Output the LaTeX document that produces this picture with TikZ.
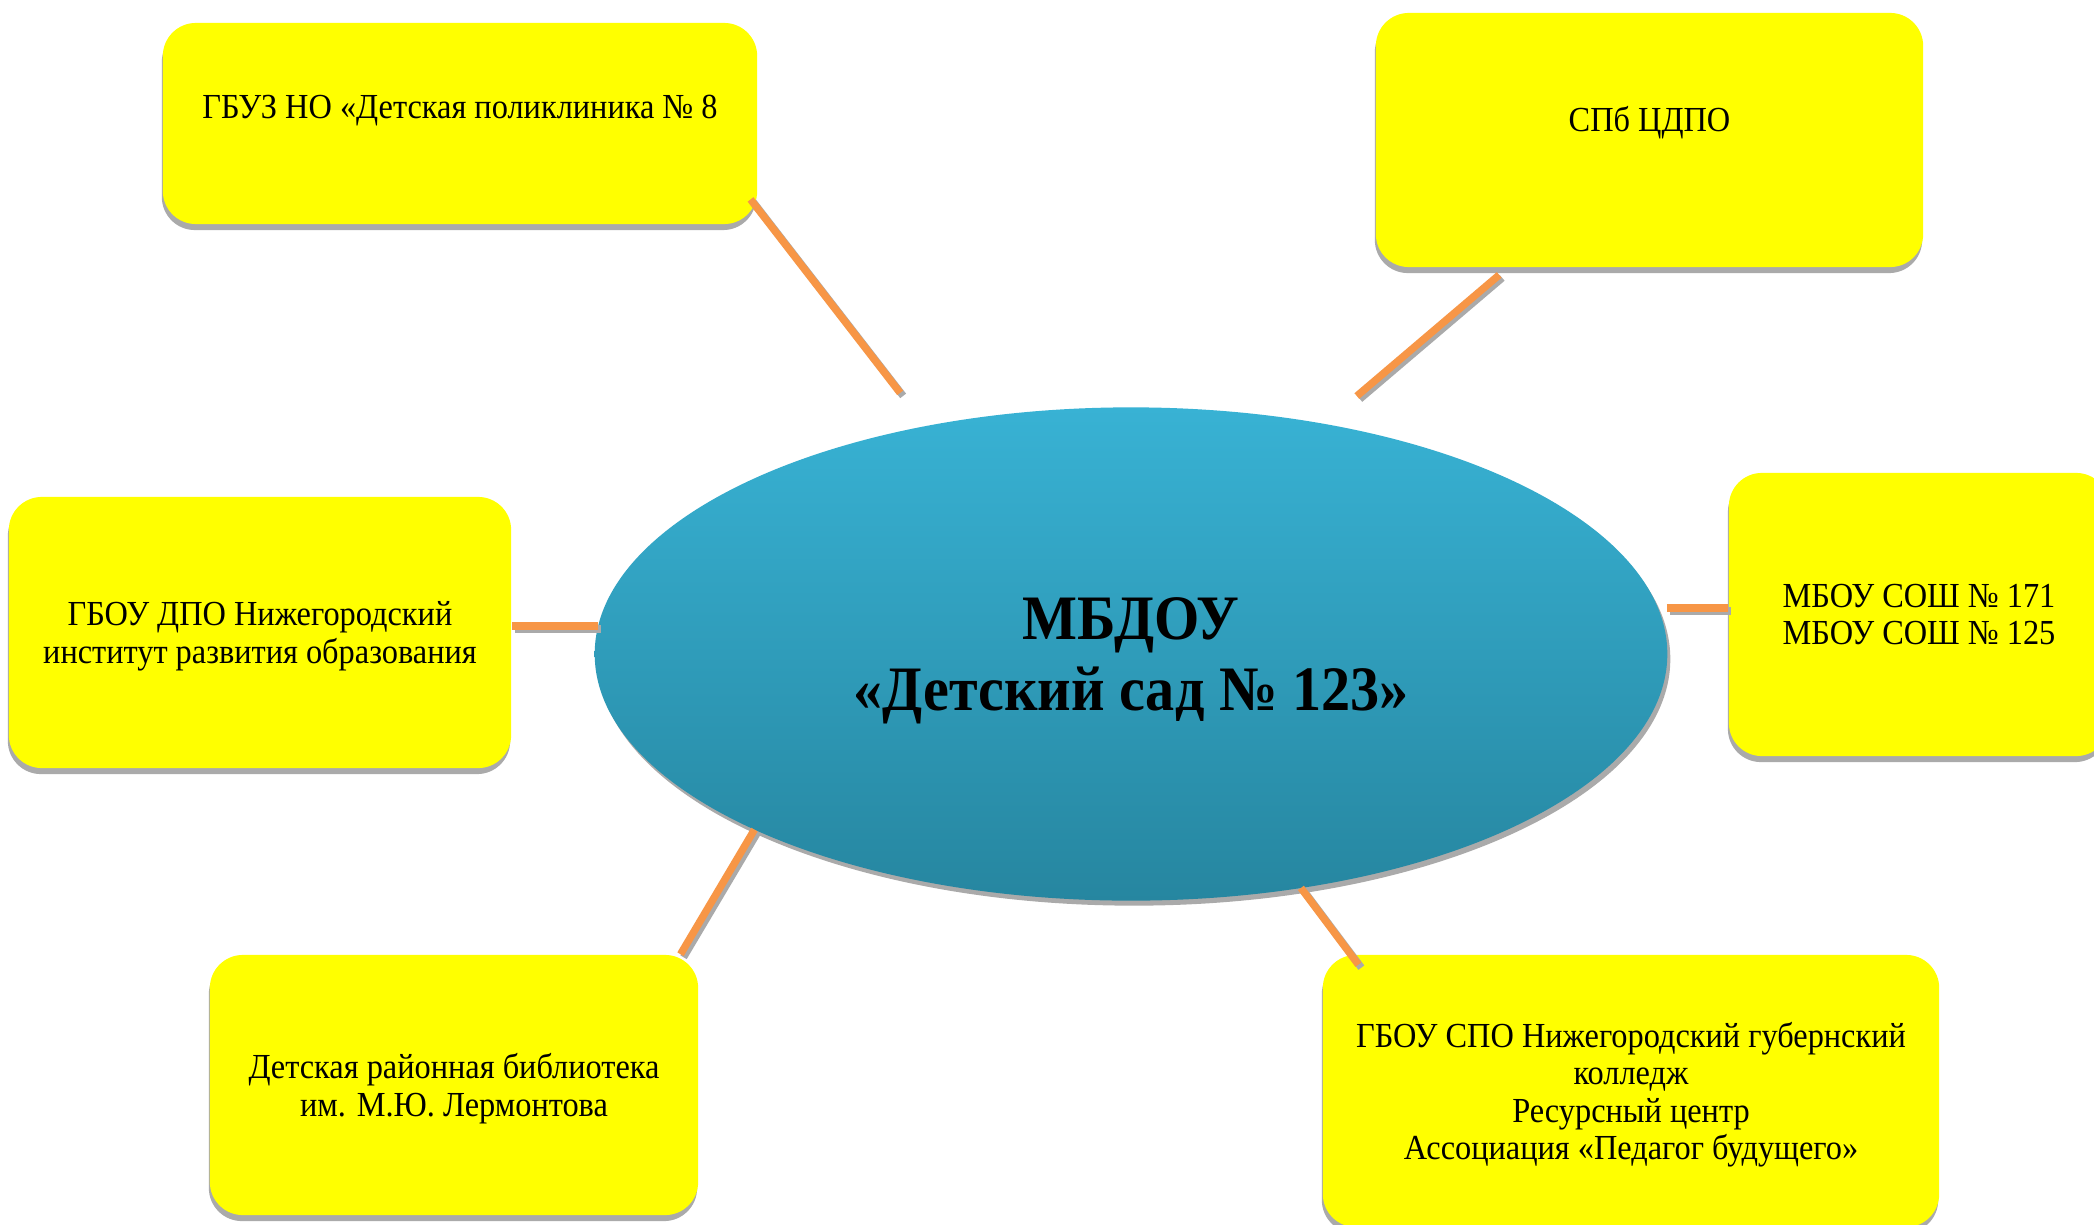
\documentclass[tikz,border=0pt]{standalone}
\usepackage{fontspec}
\setmainfont{Liberation Serif}[FakeStretch=0.92]
\usepackage{tikz}
\usetikzlibrary{shadows,shapes.geometric}
\definecolor{boxyellow}{RGB}{255,255,0}
\definecolor{boxshadow}{RGB}{170,170,170}
\definecolor{linkorange}{RGB}{247,150,70}
\definecolor{ovaltop}{RGB}{56,178,212}
\definecolor{ovalbottom}{RGB}{38,134,160}

\begin{document}
\begin{tikzpicture}[
  x=0.01cm, y=-0.01cm,
  partner/.style={rectangle,rounded corners=0.33cm,fill=boxyellow,align=center,
    inner sep=0pt,text depth=0pt,font=\fontsize{10}{10.6}\selectfont,
    drop shadow={shadow xshift=-0.01cm,shadow yshift=-0.06cm,fill=boxshadow,opacity=1}},
  oval/.style={ellipse,top color=ovaltop,bottom color=ovalbottom,inner sep=0pt,
    outer sep=0pt,align=center,text depth=0pt,font=\fontsize{18}{20}\selectfont\bfseries,
    drop shadow={shadow xshift=0.03cm,shadow yshift=-0.05cm,fill=boxshadow,opacity=1}},
  link/.style={draw=linkorange,line width=2.1pt,
    preaction={draw=boxshadow,line width=2.1pt,transform canvas={xshift=0.03cm,yshift=-0.03cm}}}
]
\path[use as bounding box,fill=white] (0,0) rectangle (2094,1224);

% centre
\node[oval,minimum width=10.72cm,minimum height=4.93cm] (mbdou) at (1131,654)
  {МБДОУ\\«Детский сад № 123»};

% partners
\node[partner,minimum width=5.94cm,minimum height=2.01cm,text height=0.25cm,text depth=0.35cm]
  (clinic) at (460,123.5) {ГБУЗ НО «Детская поликлиника № 8};
\node[partner,minimum width=5.47cm,minimum height=2.54cm,text height=0.25cm,text depth=0.41cm]
  (cdpo) at (1649.5,140) {СПб ЦДПО};
\node[partner,minimum width=3.80cm,minimum height=2.83cm]
  (school) at (1919,614.5) {МБОУ СОШ № 171\\МБОУ СОШ № 125};
\node[partner,minimum width=5.02cm,minimum height=2.71cm]
  (institute) at (260,632.5) {ГБОУ ДПО Нижегородский\\институт развития образования};
\node[partner,minimum width=4.88cm,minimum height=2.60cm]
  (library) at (454,1085) {Детская районная библиотека\\им. М.Ю. Лермонтова};
\node[partner,minimum width=6.16cm,minimum height=2.72cm]
  (college) at (1631,1091) {ГБОУ СПО Нижегородский губернский\\колледж\\Ресурсный центр\\Ассоциация «Педагог будущего»};

% links
\draw[link,shorten <=-0.12cm,shorten >=0.42cm] (clinic.-16) -- (mbdou.132);
\draw[link,shorten <=0.11cm,shorten >=0.43cm] (cdpo.-138) -- (mbdou.50);
\draw[link,shorten <=0.09cm] (mbdou.5.4) -- (mbdou.5.4 -| school.west);
\draw[link] (mbdou.177.6) -- (mbdou.177.6 -| institute.east);
\draw[link] (mbdou.205.8) -- (library.30);
\draw[link,shorten >=-0.13cm] (mbdou.-54) -- (college.154.5);
\end{tikzpicture}
\end{document}
